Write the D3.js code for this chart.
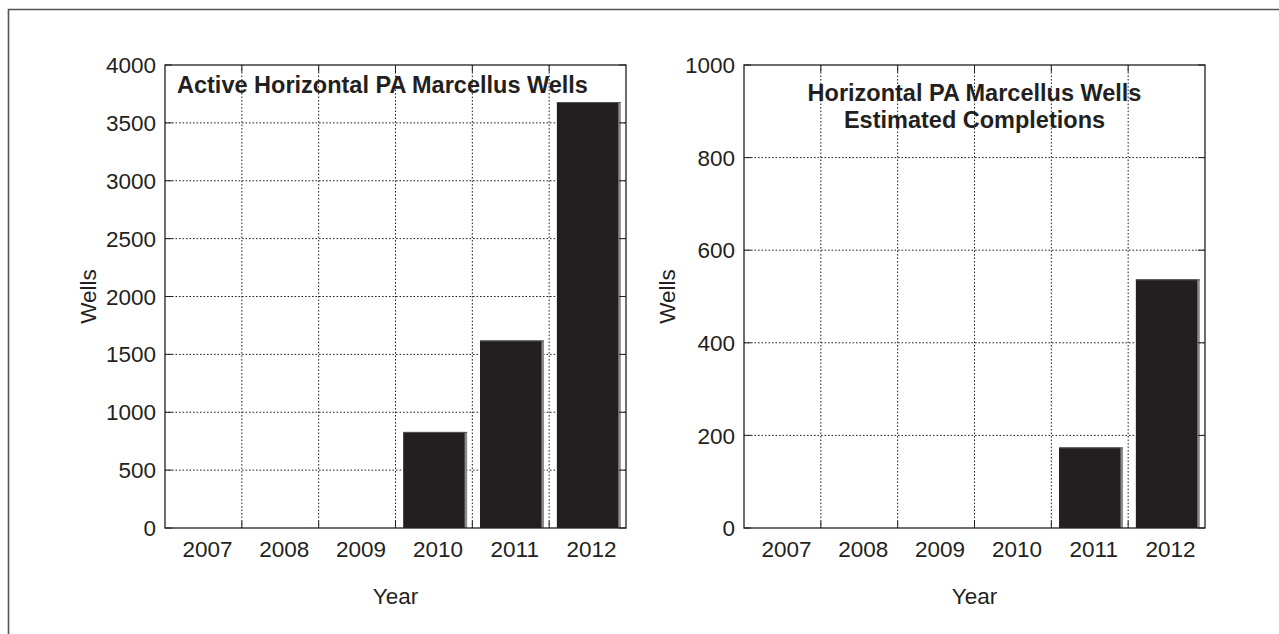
<!DOCTYPE html>
<html>
<head>
<meta charset="utf-8">
<script src="https://cdn.jsdelivr.net/npm/d3@7"></script>
<style>
  html, body { margin: 0; padding: 0; background: #fff; }
  svg { display: block; }
  text { font-family: "Liberation Sans", Arial, Helvetica, sans-serif; fill: #231f20; }
</style>
</head>
<body>
<svg id="chart" width="1279" height="634"></svg>
<script>
// Marcellus well counts by year
const years = ["2007", "2008", "2009", "2010", "2011", "2012"];
const activeWells = [0, 0, 0, 830, 1620, 3680];
const estimatedCompletions = [0, 0, 0, 0, 174, 537];
const activeTicks = [0, 500, 1000, 1500, 2000, 2500, 3000, 3500, 4000];
const completionTicks = [0, 200, 400, 600, 800, 1000];

const W = 1279, H = 634;
const ink = "#231f20";
const labelSize = 22.5;
const titleSize = 23.5;
const svg = d3.select("#chart");

svg.append("rect").attr("width", W).attr("height", H).attr("fill", "#fff");

// outer figure frame (runs off the right and bottom edges)
svg.append("path")
  .attr("d", `M8.5,${H} V9.5 H${W}`)
  .attr("fill", "none")
  .attr("stroke", "#555")
  .attr("stroke-width", 1.6);

function drawPanel(opts) {
  const { left, right, top, bottom, values, ticks, yMax, titleLines, titleAnchor } = opts;
  const g = svg.append("g");

  const x = d3.scaleBand()
    .domain(years)
    .range([left, right])
    .paddingInner(0.2)
    .paddingOuter(0.1);
  const step = x.step();
  const y = d3.scaleLinear().domain([0, yMax]).range([bottom, top]);

  // category boundaries (grid + ticks sit between bars)
  const bounds = d3.range(1, years.length).map(i => left + i * step);

  // dotted grid
  const grid = g.append("g")
    .attr("stroke", "#222")
    .attr("stroke-width", 1)
    .attr("stroke-dasharray", "1.6,1.9");
  grid.selectAll("line.v").data(bounds).join("line")
    .attr("x1", d => d).attr("x2", d => d)
    .attr("y1", top).attr("y2", bottom);
  grid.selectAll("line.h").data(ticks.filter(t => t > 0 && t < yMax)).join("line")
    .attr("x1", left).attr("x2", right)
    .attr("y1", d => y(d)).attr("y2", d => y(d));

  // bars
  const data = years.map((yr, i) => ({ yr, v: values[i] })).filter(d => d.v > 0);
  g.selectAll("rect.edge").data(data).join("rect")
    .attr("x", d => x(d.yr) + x.bandwidth() - 0.5)
    .attr("y", d => y(d.v))
    .attr("width", 3)
    .attr("height", d => bottom - y(d.v))
    .attr("fill", "#8c8c8c");
  g.selectAll("rect.bar").data(data).join("rect")
    .attr("x", d => x(d.yr))
    .attr("y", d => y(d.v))
    .attr("width", x.bandwidth())
    .attr("height", d => bottom - y(d.v))
    .attr("fill", ink);
  g.selectAll("line.cap").data(data).join("line")
    .attr("x1", d => x(d.yr)).attr("x2", d => x(d.yr) + x.bandwidth() + 2.5)
    .attr("y1", d => y(d.v) + 0.5).attr("y2", d => y(d.v) + 0.5)
    .attr("stroke", "#555").attr("stroke-width", 1);

  // inward ticks on all four sides
  const tk = 7;
  const ticksG = g.append("g").attr("stroke", ink).attr("stroke-width", 1);
  bounds.forEach(b => {
    ticksG.append("line").attr("x1", b).attr("x2", b).attr("y1", bottom).attr("y2", bottom - tk);
    ticksG.append("line").attr("x1", b).attr("x2", b).attr("y1", top).attr("y2", top + tk);
  });
  ticks.forEach(t => {
    ticksG.append("line").attr("x1", left).attr("x2", left + tk).attr("y1", y(t)).attr("y2", y(t));
    ticksG.append("line").attr("x1", right).attr("x2", right - tk).attr("y1", y(t)).attr("y2", y(t));
  });

  // axis box
  g.append("rect")
    .attr("x", left).attr("y", top)
    .attr("width", right - left).attr("height", bottom - top)
    .attr("fill", "none").attr("stroke", ink).attr("stroke-width", 1.3);

  // y tick labels
  g.selectAll("text.yt").data(ticks).join("text")
    .attr("x", left - 9)
    .attr("y", d => y(d))
    .attr("dy", "0.36em")
    .attr("text-anchor", "end")
    .attr("font-size", labelSize)
    .text(d => d);

  // x tick labels
  g.selectAll("text.xt").data(years).join("text")
    .attr("x", d => x(d) + x.bandwidth() / 2 + 4)
    .attr("y", 556.5)
    .attr("text-anchor", "middle")
    .attr("font-size", labelSize)
    .text(d => d);

  // axis titles
  g.append("text")
    .attr("x", (left + right) / 2)
    .attr("y", 604)
    .attr("text-anchor", "middle")
    .attr("font-size", labelSize)
    .text("Year");
  g.append("text")
    .attr("transform", `translate(${left - 69},${(top + bottom) / 2}) rotate(-90)`)
    .attr("text-anchor", "middle")
    .attr("font-size", labelSize)
    .text("Wells");

  // in-plot title
  titleLines.forEach((line, i) => {
    g.append("text")
      .attr("x", titleAnchor === "start" ? left + 12 : (left + right) / 2)
      .attr("y", opts.titleY + i * 27.6)
      .attr("text-anchor", titleAnchor)
      .attr("font-size", titleSize)
      .attr("font-weight", "bold")
      .text(line);
  });
}

drawPanel({
  left: 165, right: 626, top: 65, bottom: 528,
  values: activeWells, ticks: activeTicks, yMax: 4000,
  titleLines: ["Active Horizontal PA Marcellus Wells"],
  titleAnchor: "start", titleY: 93
});

drawPanel({
  left: 744, right: 1205, top: 65, bottom: 528,
  values: estimatedCompletions, ticks: completionTicks, yMax: 1000,
  titleLines: ["Horizontal PA Marcellus Wells", "Estimated Completions"],
  titleAnchor: "middle", titleY: 100.7
});
</script>
</body>
</html>
